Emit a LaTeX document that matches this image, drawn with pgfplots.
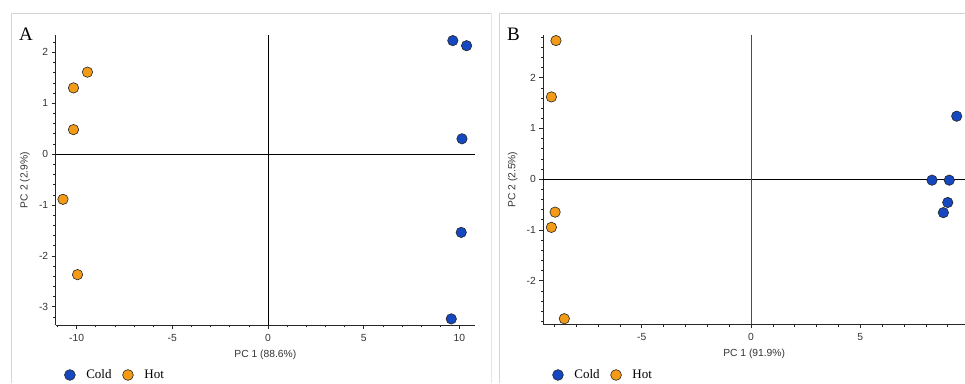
\documentclass[border=0pt]{standalone}
\usepackage{pgfplots}
\pgfplotsset{compat=1.18}
\usepackage{fontspec}
\setmainfont{Liberation Serif}
\newfontfamily\arial{Liberation Sans}
\definecolor{cold}{HTML}{1547C0}
\definecolor{hot}{HTML}{F39B17}
\definecolor{framec}{HTML}{D4D4D4}

\pgfplotsset{pca/.style={
  scale only axis,
  axis x line*=bottom, axis y line*=left,
  tick align=outside,
  major tick length=4pt, minor tick length=2.4pt,
  every tick/.style={black!85, line width=0.6pt},
  every minor tick/.style={black!85, line width=0.5pt},
  axis line style={black!85, line width=0.9pt},
  tick label style={font=\arial\fontsize{10.3}{12}\selectfont, text=black!80},
  xticklabel style={yshift=-1.5pt},
  label style={font=\arial\fontsize{10.3}{12}\selectfont, text=black!80},
  /pgf/number format/assume math mode=true,
  clip=false,
  legend columns=2,
  legend style={draw=none, fill=none, inner sep=0pt, anchor=west,
    font=\fontsize{13}{15}\selectfont,
    nodes={inner xsep=0pt, inner ysep=1pt},
    /tikz/every odd column/.append style={column sep=11pt},
    /tikz/every even column/.append style={column sep=11pt}},
  legend image code/.code={\draw[#1, mark size=5.4pt] plot coordinates {(0pt,0pt)};},
  cold/.style={only marks, mark=*, mark size=5.2pt, mark options={fill=cold, draw=black!85, line width=0.6pt}},
  hot/.style={only marks, mark=*, mark size=5.2pt, mark options={fill=hot, draw=black!85, line width=0.6pt}},
}}

\begin{document}
\begin{tikzpicture}[x=1pt,y=1pt]
\path[use as bounding box] (0,0) rectangle (965,383);
% panel frames
\draw[framec, line width=0.8pt] (11,0) -- (11,370) -- (492,370);
\draw[framec!60, line width=0.6pt] (491.5,0) -- (491.5,370);
\draw[framec, line width=0.8pt] (499,0) -- (499,370) -- (965,370);
\node[anchor=base west, inner sep=0pt, font=\fontsize{19}{21}\selectfont] at (19,342.3) {A};
\node[anchor=base west, inner sep=0pt, font=\fontsize{19}{21}\selectfont] at (507,342.3) {B};

% Panel A
\begin{axis}[pca,
  at={(55.7pt,58pt)}, anchor=south west,
  width=419.3pt, height=290pt,
  xmin=-11.09, xmax=10.82, ymin=-3.36, ymax=2.34,
  xtick={-10,-5,0,5,10}, ytick={-3,-2,-1,0,1,2},
  minor xtick={-11,-10,...,10},
  minor ytick={-3.2,-3.0,...,2.21},
  xlabel={PC 1 (88.6\%)}, ylabel={PC 2 (2.9\%)},
  xlabel style={at={(axis description cs:0.5,-0.103)}, anchor=center},
  ylabel style={at={(axis description cs:-0.0732,0.5)}, anchor=center},
  legend style={at={(axis description cs:0.0205,-0.1724)}},
]
\addplot[forget plot, black, line width=0.8pt] coordinates {(-11.09,0) (10.82,0)};
\addplot[forget plot, black, line width=0.8pt] coordinates {(0,-3.36) (0,2.34)};
\addplot[cold] coordinates {(9.66,2.23) (10.38,2.13) (10.14,0.30) (10.10,-1.54) (9.58,-3.24)};
\addlegendentry{Cold}
\addplot[hot] coordinates {(-9.43,1.61) (-10.16,1.30) (-10.16,0.48) (-10.71,-0.89) (-9.95,-2.37)};
\addlegendentry{Hot}
\end{axis}

% Panel B
\begin{axis}[pca,
  at={(543.3pt,58.7pt)}, anchor=south west,
  width=421.7pt, height=289.3pt,
  xmin=-9.5, xmax=9.79, ymin=-2.86, ymax=2.84,
  xtick={-5,0,5}, ytick={-2,-1,0,1,2},
  minor xtick={-9,-8,...,9},
  minor ytick={-2.8,-2.6,...,2.81},
  xlabel={PC 1 (91.9\%)}, ylabel={PC 2 (2.5\%)},
  xlabel style={at={(axis description cs:0.5,-0.103)}, anchor=center},
  ylabel style={at={(axis description cs:-0.0726,0.5)}, anchor=center},
  legend style={at={(axis description cs:0.0215,-0.1752)}},
]
\addplot[forget plot, black, line width=0.8pt] coordinates {(-9.5,0) (9.79,0)};
\addplot[forget plot, black!70, line width=0.8pt] coordinates {(0,-2.86) (0,2.84)};
\addplot[cold] coordinates {(9.41,1.24) (8.28,-0.02) (9.07,-0.02) (9.00,-0.46) (8.80,-0.66)};
\addlegendentry{Cold}
\addplot[hot] coordinates {(-8.92,2.73) (-9.13,1.62) (-8.96,-0.65) (-9.13,-0.95) (-8.54,-2.75)};
\addlegendentry{Hot}
\end{axis}
\end{tikzpicture}
\end{document}
